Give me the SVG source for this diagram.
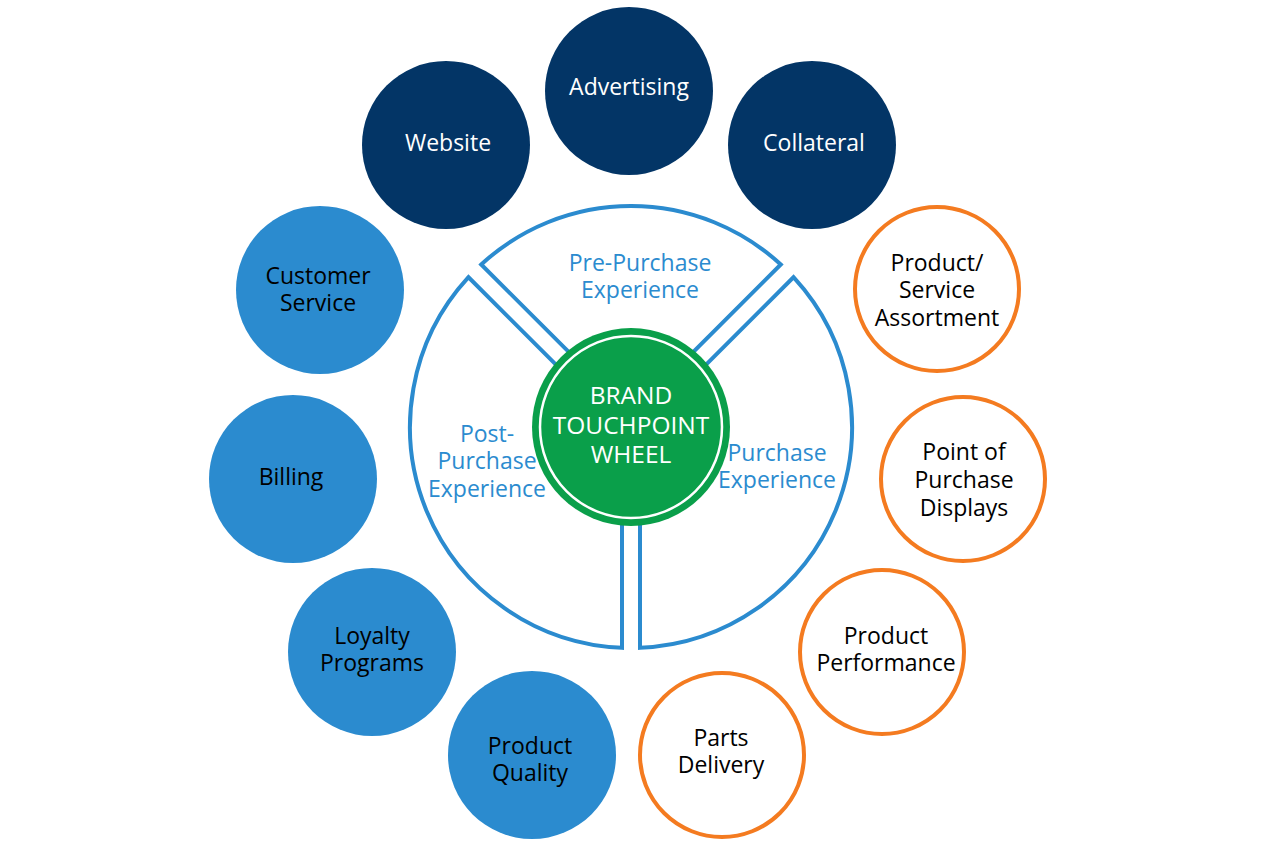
<svg xmlns="http://www.w3.org/2000/svg" width="1281" height="851" viewBox="0 0 1281 851">
<style>
text{font-family:"Open Sans","Noto Sans","Liberation Sans",sans-serif;font-size:23px;text-anchor:middle}
.navy{fill:#033566}
.blue{fill:#2b8bcf}
.orange{fill:#fff;stroke:#f47b20;stroke-width:4}
.seg{fill:#fff;stroke:#2b8bcf;stroke-width:4;stroke-linejoin:miter}
.wt{fill:#fff}
.bk{fill:#000}
.bt{fill:#2b8bcf}
.big{font-size:24.5px}
</style>
<rect width="1281" height="851" fill="#fff"/>
<g id="wheel">
<g id="seg-pre">
<path class="seg" d="M 594.93 378.21 L 481.22 264.50 A 221 221 0 0 1 780.78 264.50 L 667.07 378.21 Z"/>
<text class="bt" x="640" y="271">Pre-Purchase</text>
<text class="bt" x="640" y="298">Experience</text>
</g>
<g id="seg-purchase">
<path class="seg" d="M 679.79 390.93 L 793.50 277.22 A 221 221 0 0 1 640 647.82 L 640 487 Z"/>
<text class="bt" x="777" y="461">Purchase</text>
<text class="bt" x="777" y="488">Experience</text>
</g>
<g id="seg-post">
<path class="seg" d="M 622 487 L 622 647.82 A 221 221 0 0 1 468.50 277.22 L 582.21 390.93 Z"/>
<text class="bt" x="487" y="442">Post-</text>
<text class="bt" x="487" y="469">Purchase</text>
<text class="bt" x="487" y="497">Experience</text>
</g>
<g id="center">
<circle cx="631" cy="427" r="99" fill="#0a9f4a"/>
<circle cx="631" cy="427" r="91" fill="none" stroke="#fff" stroke-width="2.5"/>
<text class="wt big" x="631" y="404">BRAND</text>
<text class="wt big" x="631" y="434">TOUCHPOINT</text>
<text class="wt big" x="631" y="463">WHEEL</text>
</g>
</g>
<g id="advertising"><circle class="navy" cx="629" cy="91" r="84"/><text class="wt" x="629" y="95">Advertising</text></g>
<g id="website"><circle class="navy" cx="446" cy="145" r="84"/><text class="wt" x="448" y="151">Website</text></g>
<g id="collateral"><circle class="navy" cx="812" cy="145" r="84"/><text class="wt" x="814" y="151">Collateral</text></g>
<g id="customer-service"><circle class="blue" cx="320" cy="290" r="84"/><text class="bk" x="318" y="284">Customer</text><text class="bk" x="318" y="311">Service</text></g>
<g id="billing"><circle class="blue" cx="293" cy="479" r="84"/><text class="bk" x="291" y="485">Billing</text></g>
<g id="loyalty-programs"><circle class="blue" cx="372" cy="652" r="84"/><text class="bk" x="372" y="644">Loyalty</text><text class="bk" x="372" y="671">Programs</text></g>
<g id="product-quality"><circle class="blue" cx="532" cy="755" r="84"/><text class="bk" x="530" y="754">Product</text><text class="bk" x="530" y="781">Quality</text></g>
<g id="assortment"><circle class="orange" cx="937" cy="289" r="82"/><text class="bk" x="937" y="271">Product/</text><text class="bk" x="937" y="298">Service</text><text class="bk" x="937" y="326">Assortment</text></g>
<g id="pop-displays"><circle class="orange" cx="963" cy="479" r="82"/><text class="bk" x="964" y="460">Point of</text><text class="bk" x="964" y="488">Purchase</text><text class="bk" x="964" y="516">Displays</text></g>
<g id="product-performance"><circle class="orange" cx="882" cy="652" r="82"/><text class="bk" x="886" y="644">Product</text><text class="bk" x="886" y="671">Performance</text></g>
<g id="parts-delivery"><circle class="orange" cx="722" cy="755" r="82"/><text class="bk" x="721" y="746">Parts</text><text class="bk" x="721" y="773">Delivery</text></g>
<g id="connectors"/>
</svg>
